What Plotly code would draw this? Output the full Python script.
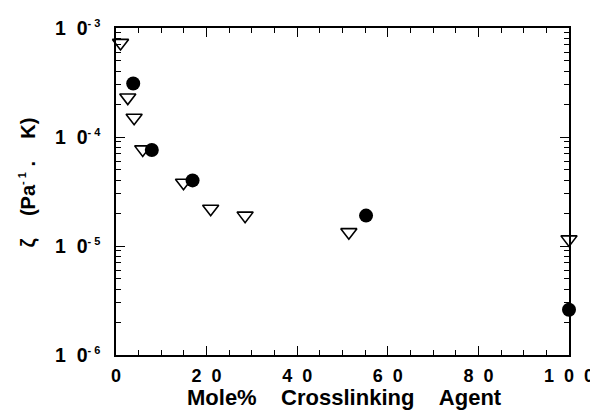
import plotly.graph_objects as go

# Filled circles series
circle_x = [3.8, 7.9, 16.9, 55.2, 100.0]
circle_y = [3.1e-4, 7.6e-5, 4.0e-5, 1.9e-5, 2.6e-6]

# Open down-triangle series
tri_x = [1.0, 2.6, 4.0, 5.9, 14.9, 20.9, 28.5, 51.4, 100.0]
tri_y = [7.3e-4, 2.3e-4, 1.5e-4, 7.7e-5, 3.8e-5, 2.2e-5, 1.9e-5, 1.34e-5, 1.15e-5]

NB = "\u00a0"
x_tickvals = [0, 20, 40, 60, 80, 100]
x_ticktext = ["0", "2" + NB * 2 + "0", "4" + NB * 2 + "0", "6" + NB * 2 + "0",
              "8" + NB * 2 + "0", "1" + NB * 2 + "0" + NB * 2 + "0"]
y_tickvals = [1e-6, 1e-5, 1e-4, 1e-3]
y_exponents = ["-6", "-5", "-4", "-3"]
y_ticktext = ["1" + NB * 2 + "0" + "<sup><span style='font-size:11px'>-" + NB + e[1] + "</span></sup>"
              for e in y_exponents]

x_title = "Mole%" + NB * 4 + "Crosslinking" + NB * 4 + "Agent"
y_title = "ζ" + NB * 4 + "(Pa<sup><span style='font-size:11px'>-" + NB + "1</span></sup>" + NB + "." + NB * 4 + "K)"

y_minor = [m * 10.0 ** e for e in (-6, -5, -4) for m in range(2, 10)]

font_family = "Liberation Sans, Arial, sans-serif"

fig = go.Figure()
fig.add_trace(go.Scatter(
    x=tri_x, y=tri_y, mode="markers", cliponaxis=False,
    marker=dict(symbol="triangle-down-open", size=14, color="black",
                line=dict(width=1.6, color="black")),
    showlegend=False))
fig.add_trace(go.Scatter(
    x=circle_x, y=circle_y, mode="markers", cliponaxis=False,
    marker=dict(symbol="circle", size=14, color="black"),
    showlegend=False))

axis_common = dict(showline=True, linecolor="black", linewidth=1.5, mirror="ticks",
                   ticks="inside", tickcolor="black", tickwidth=1.3, showgrid=False,
                   zeroline=False, automargin=False)

fig.update_xaxes(
    range=[0, 100], tickvals=x_tickvals, ticktext=x_ticktext, ticklen=9,
    ticklabelstandoff=4,
    minor=dict(ticks="inside", dtick=5, ticklen=5, tickcolor="black", tickwidth=1),
    tickfont=dict(family=font_family, size=18, color="black", weight="bold"),
    **axis_common)
fig.update_yaxes(
    type="log", range=[-6, -3], tickvals=y_tickvals, ticktext=y_ticktext, ticklen=9,
    ticklabelstandoff=10,
    minor=dict(ticks="inside", tickmode="array", tickvals=y_minor, ticklen=5,
               tickcolor="black", tickwidth=1),
    tickfont=dict(family=font_family, size=19.5, color="black", weight="bold"),
    **axis_common)

fig.add_annotation(text=x_title, xref="paper", yref="paper", x=0.5055, y=-0.13,
                   xanchor="center", yanchor="middle", showarrow=False,
                   font=dict(family=font_family, size=22, color="black", weight="bold"))
fig.add_annotation(text=y_title, xref="paper", yref="paper", x=-0.1965, y=0.5275,
                   xanchor="center", yanchor="middle", showarrow=False, textangle=-90,
                   font=dict(family=font_family, size=20, color="black", weight="bold"))

# page body adds an 8px offset; size the figure to fill the rest of the window
fig.update_layout(
    width=590, height=404,
    margin=dict(l=108, r=29, t=20, b=57),
    plot_bgcolor="white", paper_bgcolor="white",
)

fig.write_html("out.html")
